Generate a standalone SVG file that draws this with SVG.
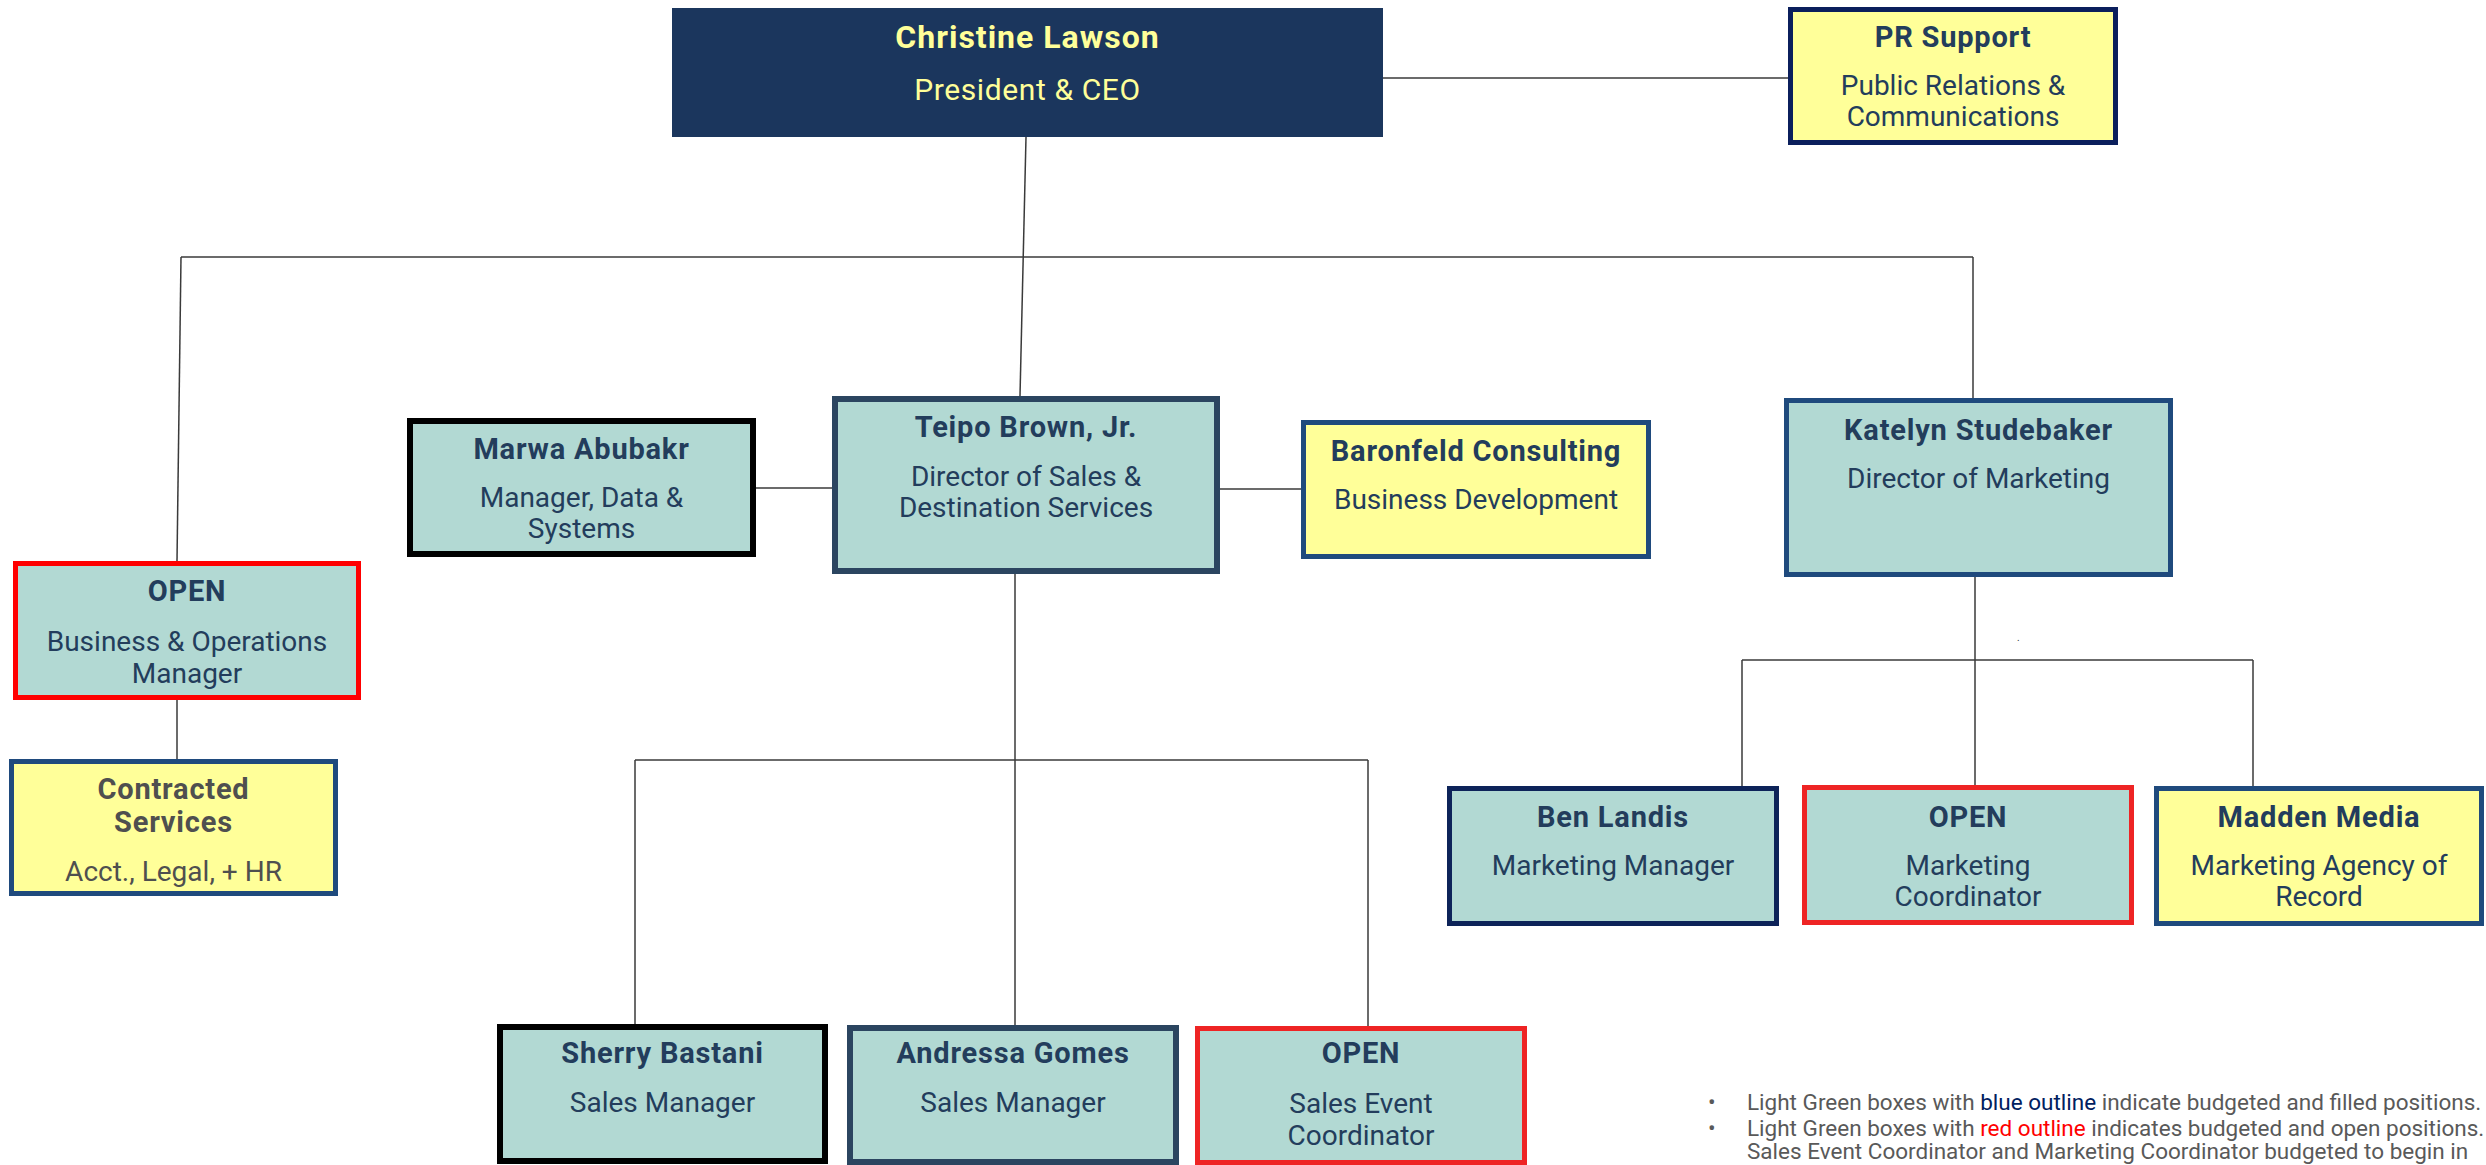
<svg xmlns="http://www.w3.org/2000/svg" width="2486" height="1165" viewBox="0 0 2486 1165">
<style>
  .teal { fill: #B2D9D3; }
  .yel { fill: #FFFF99; }
  .t { font-family: Roboto, "Liberation Sans", sans-serif; text-anchor: middle; fill: #233D5C; }
  .nm { font-size: 29px; font-weight: 700; letter-spacing: 0.8px; }
  .sb { font-size: 28px; font-weight: 400; }
  .gray { fill: #4F4F4F; }
  .conn path { fill: none; stroke: #3A3A3A; stroke-width: 1.5; }
  .leg { font-family: Roboto, "Liberation Sans", sans-serif; font-size: 22.5px; fill: #595959; }
</style>
<rect width="2486" height="1165" fill="#FFFFFF"/>

<g id="connectors" class="conn">
  <path d="M1383 78 H1788"/>
  <path d="M1026 137 L1020 396"/>
  <path d="M181 257 H1973"/>
  <path d="M181 257 L177 561"/>
  <path d="M1973 257 V398"/>
  <path d="M177 700 V759"/>
  <path d="M756 488 H832"/>
  <path d="M1220 489 H1301"/>
  <path d="M1015 574 V1025"/>
  <path d="M635 760 H1368"/>
  <path d="M635 760 V1024"/>
  <path d="M1368 760 V1026"/>
  <path d="M1975 577 V785"/>
  <path d="M1742 660 H2253"/>
  <path d="M1742 660 V786"/>
  <path d="M2253 660 V786"/>
</g>

<g id="ceo">
  <rect x="672" y="8" width="711" height="129" fill="#1B365D"/>
  <text class="t" x="1027.5" y="48" font-size="32" font-weight="700" letter-spacing="1" style="fill:#FFFF99">Christine Lawson</text>
  <text class="t" x="1027.5" y="100" font-size="30" letter-spacing="0.6" style="fill:#FFFF99">President &amp; CEO</text>
</g>

<g id="pr-support">
  <rect x="1790.5" y="9.5" width="325" height="133" class="yel" stroke="#0B1F5C" stroke-width="5"/>
  <text class="t nm" x="1953" y="47">PR Support</text>
  <text class="t sb" x="1953" y="95">Public Relations &amp;</text>
  <text class="t sb" x="1953" y="126">Communications</text>
</g>

<g id="marwa">
  <rect x="410" y="421" width="343" height="133" class="teal" stroke="#000000" stroke-width="6"/>
  <text class="t nm" x="581.5" y="459">Marwa Abubakr</text>
  <text class="t sb" x="581.5" y="507">Manager, Data &amp;</text>
  <text class="t sb" x="581.5" y="538">Systems</text>
</g>

<g id="teipo">
  <rect x="835" y="399" width="382" height="172" class="teal" stroke="#2B4560" stroke-width="6"/>
  <text class="t nm" x="1026" y="437">Teipo Brown, Jr.</text>
  <text class="t sb" x="1026" y="486">Director of Sales &amp;</text>
  <text class="t sb" x="1026" y="517">Destination Services</text>
</g>

<g id="baronfeld">
  <rect x="1303.5" y="422.5" width="345" height="134" class="yel" stroke="#1F4A7D" stroke-width="5"/>
  <text class="t nm" x="1476" y="461">Baronfeld Consulting</text>
  <text class="t sb" x="1476" y="509">Business Development</text>
</g>

<g id="katelyn">
  <rect x="1786.5" y="400.5" width="384" height="174" class="teal" stroke="#1F4A7D" stroke-width="5"/>
  <text class="t nm" x="1978.5" y="440">Katelyn Studebaker</text>
  <text class="t sb" x="1978.5" y="488">Director of Marketing</text>
</g>

<g id="open-business">
  <rect x="15.5" y="563.5" width="343" height="134" class="teal" stroke="#FF0000" stroke-width="5"/>
  <text class="t nm" x="187" y="601">OPEN</text>
  <text class="t sb" x="187" y="651">Business &amp; Operations</text>
  <text class="t sb" x="187" y="683">Manager</text>
</g>

<g id="contracted">
  <rect x="11.5" y="761.5" width="324" height="132" class="yel" stroke="#1F4A7D" stroke-width="5"/>
  <text class="t nm gray" x="173.5" y="799">Contracted</text>
  <text class="t nm gray" x="173.5" y="832">Services</text>
  <text class="t sb gray" x="173.5" y="881">Acct., Legal, + HR</text>
</g>

<g id="ben">
  <rect x="1449.5" y="788.5" width="327" height="135" class="teal" stroke="#0D2359" stroke-width="5"/>
  <text class="t nm" x="1613" y="827">Ben Landis</text>
  <text class="t sb" x="1613" y="875">Marketing Manager</text>
</g>

<g id="open-marketing">
  <rect x="1804.5" y="787.5" width="327" height="135" class="teal" stroke="#EE2424" stroke-width="5"/>
  <text class="t nm" x="1968" y="827">OPEN</text>
  <text class="t sb" x="1968" y="875">Marketing</text>
  <text class="t sb" x="1968" y="906">Coordinator</text>
</g>

<g id="madden">
  <rect x="2156.5" y="788.5" width="325" height="135" class="yel" stroke="#1F4A7D" stroke-width="5"/>
  <text class="t nm" x="2319" y="827">Madden Media</text>
  <text class="t sb" x="2319" y="875">Marketing Agency of</text>
  <text class="t sb" x="2319" y="906">Record</text>
</g>

<g id="sherry">
  <rect x="500" y="1027" width="325" height="134" class="teal" stroke="#000000" stroke-width="6"/>
  <text class="t nm" x="662.5" y="1063">Sherry Bastani</text>
  <text class="t sb" x="662.5" y="1112">Sales Manager</text>
</g>

<g id="andressa">
  <rect x="850" y="1028" width="326" height="134" class="teal" stroke="#2B4560" stroke-width="6"/>
  <text class="t nm" x="1013" y="1063">Andressa Gomes</text>
  <text class="t sb" x="1013" y="1112">Sales Manager</text>
</g>

<g id="open-sales">
  <rect x="1197.5" y="1028.5" width="327" height="134" class="teal" stroke="#EE2424" stroke-width="5"/>
  <text class="t nm" x="1361" y="1063">OPEN</text>
  <text class="t sb" x="1361" y="1113">Sales Event</text>
  <text class="t sb" x="1361" y="1145">Coordinator</text>
</g>

<text x="2017" y="641" font-family="Roboto, sans-serif" font-size="10" fill="#333333">.</text>

<g id="legend">
  <text class="leg" x="1708" y="1110">•</text>
  <text class="leg" x="1747" y="1110">Light Green boxes with <tspan fill="#002060">blue outline</tspan> indicate budgeted and filled positions.</text>
  <text class="leg" x="1708" y="1136">•</text>
  <text class="leg" x="1747" y="1136">Light Green boxes with <tspan fill="#FF0000">red outline</tspan> indicates budgeted and open positions.</text>
  <text class="leg" x="1747" y="1159">Sales Event Coordinator and Marketing Coordinator budgeted to begin in</text>
</g>
</svg>
